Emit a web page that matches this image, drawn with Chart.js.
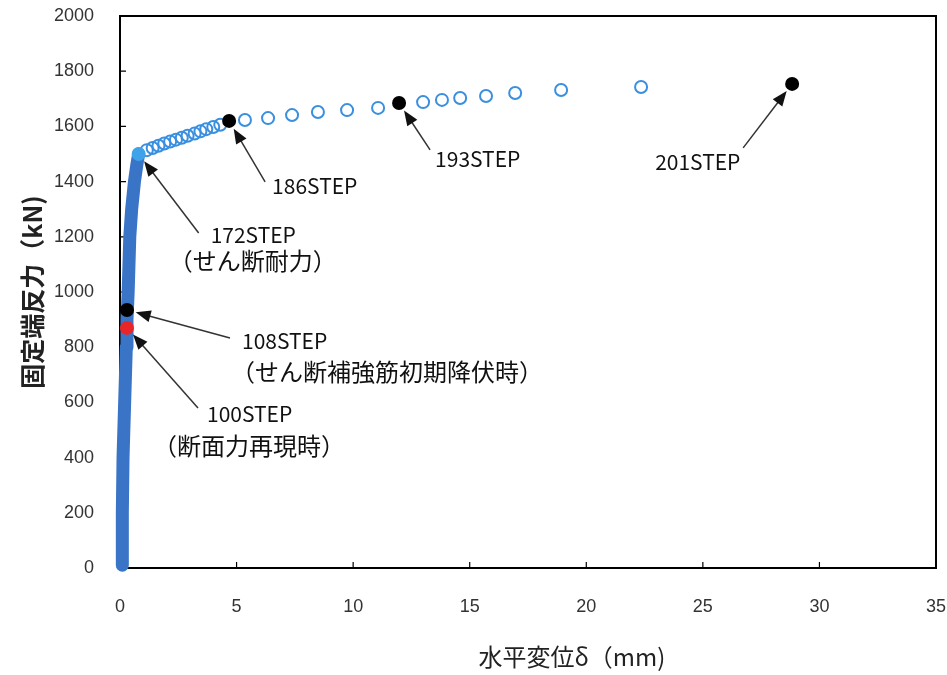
<!DOCTYPE html>
<html>
<head>
<meta charset="utf-8">
<script src="https://cdn.jsdelivr.net/npm/chart.js@4.4.1/dist/chart.umd.min.js"></script>
<style>
  html, body { margin: 0; padding: 0; background: #fff; }
</style>
</head>
<body>
<canvas id="chart" width="947" height="675"></canvas>
<script>
// ── Data ─────────────────────────────────────────────────────────
// steep part (steps 1–172): dense points that merge into one thick band
const bandX = [0.10, 0.10, 0.13, 0.20, 0.27, 0.30, 0.35, 0.42, 0.50, 0.62, 0.72, 0.80];
const bandY = [10, 200, 400, 600, 800, 900, 1000, 1200, 1300, 1400, 1460, 1500];

// open circles after the shear capacity step
const circleX = [1.15, 1.40, 1.65, 1.90, 2.15, 2.40, 2.65, 2.90, 3.20, 3.45, 3.70, 4.00, 4.30,
                 5.36, 6.35, 7.38, 8.49, 9.74, 11.07,
                 13.00, 13.81, 14.59, 15.70, 16.95, 18.92, 22.35];
const circleY = [1514, 1522, 1530, 1538, 1545, 1552, 1559, 1566, 1574, 1582, 1590, 1598, 1606,
                 1623, 1630, 1641, 1652, 1659, 1667,
                 1688, 1696, 1703, 1710, 1721, 1732, 1743];

// labelled steps
const stepNames = ["100STEP", "108STEP", "172STEP", "186STEP", "193STEP", "201STEP"];
const stepNotes = ["（断面力再現時）", "（せん断補強筋初期降伏時）", "（せん断耐力）", "", "", ""];
const stepX = [0.30, 0.30, 0.80, 4.68, 11.97, 28.83];
const stepY = [870, 935, 1500, 1620, 1685, 1754];
const stepColors = ["#e8262a", "#000000", "#3fa3ea", "#000000", "#000000", "#000000"];

const xTicks = [0, 5, 10, 15, 20, 25, 30, 35];
const yTicks = [0, 200, 400, 600, 800, 1000, 1200, 1400, 1600, 1800, 2000];

// ── Annotation layout (pixel offsets from the marked point) ─────
const notes = [
  { i: 0, tail: [71, 80],  l1: [80, 86],    l2: [26, 118] },
  { i: 1, tail: [103, 28], l1: [115, 31],   l2: [104, 62] },
  { i: 2, tail: [60, 79],  l1: [72, 81],    l2: [30, 107] },
  { i: 3, tail: [36, 61],  l1: [43, 65] },
  { i: 4, tail: [31, 47],  l1: [36, 56] },
  { i: 5, tail: [-49, 64], l1: [-137, 78] }
];

const toPts = (xs, ys) => xs.map((x, k) => ({ x: x, y: ys[k] }));

function arrow(ctx, x1, y1, x2, y2) {
  const a = Math.atan2(y2 - y1, x2 - x1);
  const hl = 15, hw = 6;
  ctx.beginPath();
  ctx.moveTo(x1, y1);
  ctx.lineTo(x2 - hl * 0.8 * Math.cos(a), y2 - hl * 0.8 * Math.sin(a));
  ctx.stroke();
  ctx.beginPath();
  ctx.moveTo(x2, y2);
  ctx.lineTo(x2 - hl * Math.cos(a) + hw * Math.sin(a), y2 - hl * Math.sin(a) - hw * Math.cos(a));
  ctx.lineTo(x2 - hl * Math.cos(a) - hw * Math.sin(a), y2 - hl * Math.sin(a) + hw * Math.cos(a));
  ctx.closePath();
  ctx.fill();
}

// frame + inward ticks under the data, arrows and texts over it
const decor = {
  id: "decor",
  beforeDatasetsDraw(chart) {
    const { ctx, chartArea: a, scales: { x, y } } = chart;
    ctx.save();
    ctx.strokeStyle = "#000";
    ctx.lineWidth = 2;
    ctx.strokeRect(a.left, a.top, a.right - a.left, a.bottom - a.top);
    ctx.lineWidth = 1.2;
    ctx.beginPath();
    xTicks.forEach(v => {
      const px = x.getPixelForValue(v);
      ctx.moveTo(px, a.bottom); ctx.lineTo(px, a.bottom - 6);
    });
    yTicks.forEach(v => {
      const py = y.getPixelForValue(v);
      ctx.moveTo(a.left, py); ctx.lineTo(a.left + 6, py);
    });
    ctx.stroke();
    ctx.restore();
  },
  afterDatasetsDraw(chart) {
    const { ctx, scales: { x, y } } = chart;
    ctx.save();
    ctx.strokeStyle = "#333";
    ctx.fillStyle = "#111";
    ctx.lineWidth = 1.5;
    ctx.textBaseline = "middle";
    ctx.textAlign = "left";
    notes.forEach(n => {
      const px = x.getPixelForValue(stepX[n.i]);
      const py = y.getPixelForValue(stepY[n.i]);
      const tx = px + n.tail[0], ty = py + n.tail[1];
      const d = Math.hypot(n.tail[0], n.tail[1]);
      arrow(ctx, tx, ty, px + n.tail[0] / d * 9, py + n.tail[1] / d * 9);
      ctx.font = '21px "Noto Sans CJK JP"';
      ctx.fillText(stepNames[n.i], px + n.l1[0], py + n.l1[1]);
      if (n.l2) {
        ctx.font = '24px "Noto Sans CJK JP"';
        ctx.fillText(stepNotes[n.i], px + n.l2[0], py + n.l2[1]);
      }
    });
    // x axis title
    ctx.font = '24px "Noto Sans CJK JP"';
    ctx.fillStyle = "#222";
    ctx.textAlign = "center";
    ctx.fillText("水平変位δ（mm)", 572, 657);
    ctx.restore();
  }
};

const tickFont = { family: '"Liberation Sans", sans-serif', size: 18 };

new Chart(document.getElementById("chart"), {
  type: "scatter",
  data: {
    datasets: [
      {
        data: toPts(bandX, bandY),
        order: 3,
        showLine: true,
        borderColor: "#3a74c6",
        borderWidth: 13,
        borderCapStyle: "round",
        borderJoinStyle: "round",
        pointRadius: 0,
        clip: false
      },
      {
        data: toPts(circleX, circleY),
        order: 2,
        pointRadius: 6,
        pointBorderWidth: 2,
        pointBorderColor: "#3a8fdf",
        pointBackgroundColor: "rgba(255,255,255,0)"
      },
      {
        data: toPts(stepX, stepY),
        order: 1,
        pointRadius: 7,
        pointBorderWidth: 0,
        pointBackgroundColor: stepColors,
        pointBorderColor: stepColors
      }
    ]
  },
  options: {
    responsive: false,
    animation: false,
    layout: { padding: { top: 16, right: 11, left: 0, bottom: 0 } },
    plugins: { legend: { display: false }, tooltip: { enabled: false } },
    scales: {
      x: {
        type: "linear",
        min: 0, max: 35,
        afterBuildTicks: s => { s.ticks = xTicks.map(v => ({ value: v })); },
        afterFit: s => { s.height = 107; s.paddingLeft = 0; s.paddingRight = 0; },
        grid: { display: false },
        border: { display: false },
        ticks: { color: "#333", font: tickFont, padding: 20, maxRotation: 0, callback: v => String(v) }
      },
      y: {
        min: 0, max: 2000,
        afterBuildTicks: s => { s.ticks = yTicks.map(v => ({ value: v })); },
        afterFit: s => { s.width = 120; s.paddingTop = 0; s.paddingBottom = 0; },
        grid: { display: false },
        border: { display: false },
        ticks: { color: "#333", font: tickFont, padding: 18, callback: v => String(v) },
        title: {
          display: true,
          text: "固定端反力（kN)",
          color: "#222",
          font: { family: '"Noto Sans CJK JP"', size: 25, weight: "bold" },
          padding: { top: 17, bottom: 0 }
        }
      }
    }
  },
  plugins: [decor]
});
</script>
</body>
</html>
